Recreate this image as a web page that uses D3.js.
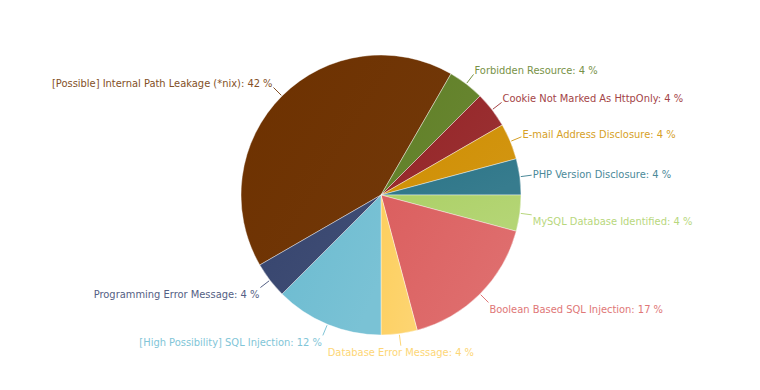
<!DOCTYPE html>
<html>
<head>
<meta charset="utf-8">
<script src="https://cdn.jsdelivr.net/npm/d3@7"></script>
<style>
  body { margin: 0; background: #fff; }
  svg text { font-family: "DejaVu Sans Condensed", "DejaVu Sans", sans-serif; font-size: 11px; }
</style>
</head>
<body>
<svg id="chart" width="760" height="390"></svg>
<script>
// categories, counts (out of 24 findings) and shown percentages
const categories = [
  "[Possible] Internal Path Leakage (*nix)",
  "Forbidden Resource",
  "Cookie Not Marked As HttpOnly",
  "E-mail Address Disclosure",
  "PHP Version Disclosure",
  "MySQL Database Identified",
  "Boolean Based SQL Injection",
  "Database Error Message",
  "[High Possibility] SQL Injection",
  "Programming Error Message"
];
const counts = [10, 1, 1, 1, 1, 1, 4, 1, 3, 1];
const percents = [42, 4, 4, 4, 4, 4, 17, 4, 12, 4];
const colors = ["#6d3100", "#607f26", "#942326", "#cf8e00", "#2b7487",
                "#acd066", "#db5f5f", "#fdcf5e", "#6bbbd0", "#36446e"];

const svg = d3.select("#chart");
const cx = 381, cy = 195, radius = 140;

const data = categories.map((c, i) => ({ name: c, value: counts[i], pct: percents[i], color: colors[i] }));

const startA = -Math.PI * 2 / 3;
const pie = d3.pie().sort(null).value(d => d.value)
  .startAngle(startA).endAngle(startA + Math.PI * 2);
const arcs = pie(data);
const arc = d3.arc().innerRadius(0).outerRadius(radius);

const lighten = (c, t) => d3.interpolateRgb(c, "#fff")(t);

// soft shading on every slice, stronger on the light colours
const defs = svg.append("defs");
arcs.forEach((a, i) => {
  const l = d3.hsl(a.data.color).l;
  const g = defs.append("linearGradient")
    .attr("id", "grad" + i)
    .attr("x1", 0).attr("y1", 0).attr("x2", 1).attr("y2", 0.6);
  g.append("stop").attr("offset", "0%").attr("stop-color", a.data.color);
  g.append("stop").attr("offset", "100%").attr("stop-color", lighten(a.data.color, 0.16 * l));
});

const main = svg.append("g").attr("transform", `translate(${cx},${cy})`);

main.selectAll("path.slice")
  .data(arcs)
  .enter()
  .append("path")
  .attr("class", "slice")
  .attr("d", arc)
  .attr("fill", (d, i) => `url(#grad${i})`)
  .attr("stroke", "#fff")
  .attr("stroke-opacity", 0.5)
  .attr("stroke-width", 0.8);

// labels with short connectors
const mid = d => (d.startAngle + d.endAngle) / 2;
const pt = (d, r) => [Math.sin(mid(d)) * r, -Math.cos(mid(d)) * r];

const labels = main.selectAll("g.label")
  .data(arcs)
  .enter()
  .append("g")
  .attr("class", "label");

labels.append("line")
  .attr("x1", d => pt(d, radius + 1)[0])
  .attr("y1", d => pt(d, radius + 1)[1])
  .attr("x2", d => pt(d, radius + 12)[0])
  .attr("y2", d => pt(d, radius + 12)[1])
  .attr("stroke", d => lighten(d.data.color, 0.15))
  .attr("stroke-width", 1);

labels.append("text")
  .attr("x", d => {
    const s = Math.sin(mid(d));
    const p = pt(d, radius + 12);
    return Math.abs(s) < 0.15 ? p[0] : (s > 0 ? p[0] + 1 : p[0] - 1);
  })
  .attr("y", d => {
    const p = pt(d, radius + 12);
    const c = Math.cos(mid(d));
    return c > 0 ? p[1] - 4 * Math.min(1, c / 0.5) : p[1] + 6.5;
  })
  .attr("dy", "0.35em")
  .attr("text-anchor", d => {
    const s = Math.sin(mid(d));
    return Math.abs(s) < 0.15 ? "middle" : (s > 0 ? "start" : "end");
  })
  .attr("fill", d => lighten(d.data.color, 0.15))
  .text(d => `${d.data.name}: ${d.data.pct} %`);
</script>
</body>
</html>
